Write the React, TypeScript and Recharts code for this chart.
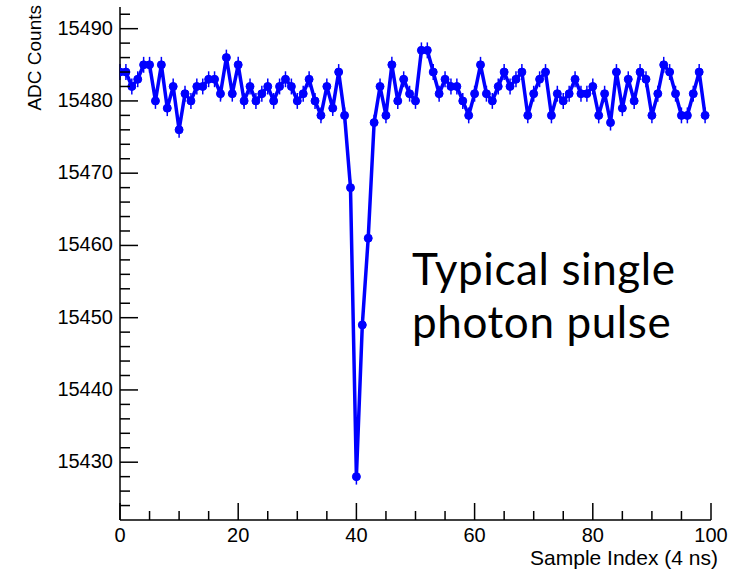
import React from "react";
import { LineChart, Line, XAxis, YAxis, ErrorBar } from "recharts";

// ADC samples, one per 4 ns sample
const adcCounts = [
  15484, 15484, 15482, 15483, 15485, 15485, 15480, 15485, 15479, 15482,
  15476, 15481, 15480, 15482, 15482, 15483, 15483, 15481, 15486, 15481,
  15485, 15480, 15482, 15480, 15481, 15482, 15480, 15482, 15483, 15482,
  15480, 15481, 15483, 15480, 15478, 15482, 15479, 15484, 15478, 15468,
  15428, 15449, 15461, 15477, 15482, 15478, 15485, 15480, 15483, 15481,
  15480, 15487, 15487, 15484, 15481, 15483, 15482, 15482, 15480, 15478,
  15481, 15485, 15481, 15480, 15482, 15484, 15482, 15483, 15484, 15478,
  15481, 15483, 15484, 15478, 15481, 15480, 15481, 15483, 15481, 15481,
  15482, 15478, 15481, 15477, 15484, 15479, 15483, 15480, 15484, 15483,
  15478, 15481, 15485, 15484, 15481, 15478, 15478, 15481, 15484, 15478,
];
const adcError = 1.1;

const xMajorTicks = [0, 20, 40, 60, 80, 100];
const xMinorTicks = [5, 10, 15, 25, 30, 35, 45, 50, 55, 65, 70, 75, 85, 90, 95];
const yMajorTicks = [15430, 15440, 15450, 15460, 15470, 15480, 15490];
const yMinorTicks = [
  15424, 15426, 15428, 15432, 15434, 15436, 15438, 15442, 15444, 15446, 15448,
  15452, 15454, 15456, 15458, 15462, 15464, 15466, 15468, 15472, 15474, 15476,
  15478, 15482, 15484, 15486, 15488, 15492,
];

const noteLines = ["Typical single", "photon pulse"];

const data = adcCounts.map((v, i) => ({ sample: i, adc: v, err: adcError }));

const FONT = "'Liberation Sans', Arial, Helvetica, sans-serif";
const BLUE = "#0000ff";

function XTick(props: any) {
  const { x, y, payload } = props;
  const major = xMajorTicks.includes(payload.value);
  return (
    <g>
      <line x1={x} x2={x} y1={y} y2={y - (major ? 17 : 9)} stroke="#000" strokeWidth={1.5} />
      {major && (
        <text x={x} y={y + 22} textAnchor="middle" fontSize={20} fontFamily={FONT} fill="#000">
          {payload.value}
        </text>
      )}
    </g>
  );
}

function YTick(props: any) {
  const { x, y, payload } = props;
  const major = yMajorTicks.includes(payload.value);
  return (
    <g>
      <line x1={x} x2={x + (major ? 18 : 10)} y1={y} y2={y} stroke="#000" strokeWidth={1.5} />
      {major && (
        <text x={x - 7} y={y + 6} textAnchor="end" fontSize={20} fontFamily={FONT} fill="#000">
          {payload.value}
        </text>
      )}
    </g>
  );
}

export default function App() {
  return (
    <div style={{ position: "absolute", left: 0, top: 0, width: 740, height: 573, background: "#fff" }}>
      <LineChart
        width={740}
        height={573}
        data={data}
        margin={{ top: 7, right: 29, left: 0, bottom: 0 }}
      >
        <XAxis
          xAxisId="bottom"
          dataKey="sample"
          type="number"
          domain={[0, 100]}
          ticks={[...xMajorTicks, ...xMinorTicks]}
          interval={0}
          height={53}
          tickSize={0}
          tickMargin={0}
          tickLine={false}
          axisLine={{ stroke: "#000", strokeWidth: 1.5 }}
          tick={<XTick />}
          allowDataOverflow
          label={{
            content: ({ viewBox }: any) => (
              <text
                x={viewBox.x + viewBox.width + 7}
                y={viewBox.y + 45}
                textAnchor="end"
                fontSize={21}
                fontFamily={FONT}
                fill="#000"
              >
                Sample Index (4 ns)
              </text>
            ),
          }}
        />
        <XAxis
          xAxisId="top"
          orientation="top"
          dataKey="sample"
          type="number"
          domain={[0, 100]}
          height={0}
          tick={false}
          tickLine={false}
          axisLine={{ stroke: "#000", strokeWidth: 1.5 }}
        />
        <YAxis
          yAxisId="left"
          type="number"
          domain={[15422, 15493]}
          ticks={[...yMajorTicks, ...yMinorTicks]}
          interval={0}
          width={120}
          tickSize={0}
          tickMargin={0}
          tickLine={false}
          axisLine={{ stroke: "#000", strokeWidth: 1.5 }}
          tick={<YTick />}
          allowDataOverflow
          label={{
            content: ({ viewBox }: any) => (
              <text
                x={36}
                y={viewBox.y - 2}
                transform={`rotate(-90, 36, ${viewBox.y - 2})`}
                textAnchor="end"
                dominantBaseline="middle"
                fontSize={19}
                fontFamily={FONT}
                fill="#000"
              >
                ADC Counts
              </text>
            ),
          }}
        />
        <YAxis
          yAxisId="right"
          orientation="right"
          type="number"
          domain={[15422, 15493]}
          width={0}
          tick={false}
          tickLine={false}
          axisLine={{ stroke: "#000", strokeWidth: 1.5 }}
        />
        <Line
          xAxisId="bottom"
          yAxisId="left"
          type="linear"
          dataKey="adc"
          stroke={BLUE}
          strokeWidth={3.5}
          dot={{ r: 4, fill: BLUE, stroke: BLUE, strokeWidth: 1 }}
          activeDot={false}
          isAnimationActive={false}
        >
          <ErrorBar dataKey="err" direction="y" width={0} stroke={BLUE} strokeWidth={1.5} isAnimationActive={false} />
        </Line>
      </LineChart>
      {noteLines.map((line, i) => (
        <div
          key={line}
          style={{
            position: "absolute",
            left: 412,
            top: 242 + i * 53,
            height: 53,
            fontFamily: "Lato, 'Open Sans', sans-serif",
            fontSize: 44,
            letterSpacing: 0.6,
            lineHeight: "53px",
            color: "#000",
            whiteSpace: "nowrap",
          }}
        >
          {line}
        </div>
      ))}
    </div>
  );
}
